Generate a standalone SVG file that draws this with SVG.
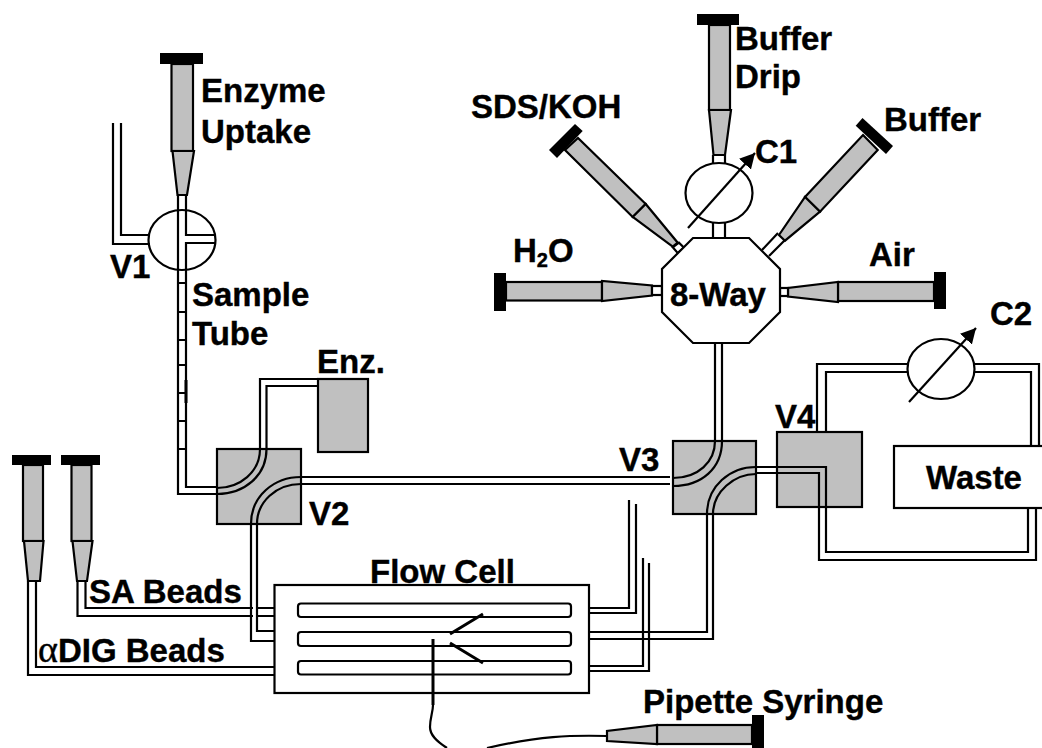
<svg xmlns="http://www.w3.org/2000/svg" width="1042" height="748" viewBox="0 0 1042 748">
<style>
text{font-family:"Liberation Sans",Arial,sans-serif;font-weight:bold;font-size:33px;fill:#000;stroke:#000;stroke-width:.4}
.g{fill:#c0c0c0;stroke:#000;stroke-width:2.200}
.w{fill:#fff;stroke:#000;stroke-width:2.200}
.c{fill:#000}
.l{fill:none;stroke:#000;stroke-width:2.200}
.t{fill:none;stroke:#000;stroke-width:3}
</style>
<defs>
<marker id="ah" markerUnits="userSpaceOnUse" markerWidth="20" markerHeight="20" refX="15" refY="8" orient="auto"><path d="M0 0L15 8L0 16Z" fill="#000"/></marker>
</defs>
<rect width="1042" height="748" fill="#fff"/>

<g id="v2"><rect class="g" x="217" y="449" width="84" height="75"/></g>
<g id="v3"><rect class="g" x="673" y="441" width="83" height="73"/></g>
<g id="v4"><rect class="g" x="777" y="432" width="85" height="75"/></g>
<g id="enz"><rect class="g" x="318" y="379" width="50" height="73"/></g>

<g id="connectors">
<path class="l" d="M113 123V244H150M121 123V235H150"/>
<path class="l" d="M178 195V494H217M186 195V235H215M215 243H186V487H217"/>
<path class="l" d="M178 283H186M178 312H186M178 340H186M178 365H186M178 393H186M178 421H186M178 449H186"/>
<path class="t" d="M186 380V403"/>
<path class="l" d="M260 449V379H318M266.500 449V386H318"/>
<path class="l" d="M260 449C260 472 240 488 217 488M266.500 449C266.500 476 244 494 217 494"/>
<path class="l" d="M251 524C251 496 274 477 301 477M257 524C257 502 276 484 301 484"/>
<path class="l" d="M251 524V641H274M257 524V631H274"/>
<path class="l" d="M301 477H670M301 484H670"/>
<path class="l" d="M77.500 581V616H253M257 616H274M85.500 581V608H253M257 608H274"/>
<path class="l" d="M28 581V675H274M36 581V667H274"/>
<path class="l" d="M715 343V441M722 343V441"/>
<path class="l" d="M715 441C715 462 698 478 673 478M722 441C722 468 702 486 673 486"/>
<path class="l" d="M756 467C730 467 707 486 707 514M756 474C734 474 713 492 713 514"/>
<path class="l" d="M707 514V632H589M713 514V639H589"/>
<path class="l" d="M589 608H629V500M589 613H636V504"/>
<path class="l" d="M589 666H643V558M589 671H649V563"/>
<path class="l" d="M756 467H826V552H1028V508M756 473H819V560H1036V508"/>
<path class="l" d="M817 432V364H908M826 432V372H908M975 364H1039V446M975 372H1031V446"/>
<path class="l" d="M713 155V163M725 155V163M713 223V238M725 223V238"/>
<path class="l" d="M762 250L778 233M769 256L785 240"/>
<path class="l" d="M607 736C570 735 540 736 487 748M447 748C436 741 430 735 430 727C430 718 433 712 433 705"/>
<path class="t" d="M433 639V705"/>
</g>

<g id="flow-cell">
<rect x="274.500" y="585" width="314.500" height="108" fill="none" stroke="#000" stroke-width="2.200"/>
<rect class="l" x="298" y="603.500" width="273" height="13.500" rx="3"/>
<rect class="l" x="298" y="632" width="273" height="14" rx="3"/>
<rect class="l" x="298" y="661" width="273" height="13.500" rx="3"/>
<path class="t" d="M450 634L483 614M450 643L483 663"/>
<text x="370" y="583">Flow Cell</text>
</g>

<g id="syr-enzyme"><rect class="g" x="171.500" y="64" width="21.500" height="87"/><rect class="c" x="160" y="53" width="43" height="11"/><path class="g" d="M172.500 151H194L187 195H177.500Z"/></g>
<g id="syr-dig"><rect class="g" x="23" y="465" width="20" height="76"/><rect class="c" x="12" y="455" width="39" height="10"/><path class="g" d="M24 541H43.500L40 581H28Z"/></g>
<g id="syr-sa"><rect class="g" x="71.500" y="465" width="20" height="76"/><rect class="c" x="61" y="455" width="39" height="10"/><path class="g" d="M72.500 541H92.500L87 581H77Z"/></g>
<g id="syr-drip"><rect class="g" x="709" y="25" width="21" height="85"/><rect class="c" x="697" y="14" width="42" height="11"/><path class="g" d="M709 110H731L725 155H713.500Z"/></g>
<g id="syr-sds"><path class="g" d="M565 150L578 138L645.700 204L632.700 217Z"/><path class="c" d="M575 124L582.700 131L557 158L549 150Z"/><path class="g" d="M632.700 217L645.700 204L677.700 242.700L672.700 246.700Z"/><path class="w" d="M672.700 247.300L679 242.700L684 247.700L677.700 253Z"/></g>
<g id="syr-buffer"><path class="g" d="M863 135L877.700 150L820 211.700L805 197Z"/><path class="c" d="M862.500 118L893 146L886 154L855.700 125.700Z"/><path class="g" d="M805 197L820 211.700L785 240.700L779 235Z"/></g>
<g id="syr-h2o"><rect class="g" x="506" y="282" width="96" height="18.500"/><rect class="c" x="494" y="273" width="12" height="38"/><path class="g" d="M602 281V301L652 295.500V285.500Z"/><rect class="w" x="652" y="286" width="10" height="9"/></g>
<g id="syr-air"><rect class="g" x="838" y="282" width="96" height="19"/><rect class="c" x="934" y="272" width="12" height="37"/><path class="g" d="M838 282V302L788 296.500V288Z"/><rect class="w" x="780" y="288" width="8" height="8"/></g>
<g id="syr-pipette"><rect class="g" x="657" y="725" width="95" height="19"/><path class="g" d="M657 725V744L607 741V731Z"/><rect class="c" x="752" y="715" width="12" height="33"/></g>

<g id="valve-v1"><ellipse cx="182" cy="240" rx="33.500" ry="30" fill="none" stroke="#000" stroke-width="2.200"/></g>
<g id="valve-c1"><ellipse class="w" cx="719" cy="193" rx="33.500" ry="30"/><path class="l" d="M688 228L755 153" marker-end="url(#ah)"/></g>
<g id="valve-c2"><ellipse class="w" cx="941" cy="369" rx="33.500" ry="30"/><path class="l" d="M909 402L976 328" marker-end="url(#ah)"/></g>
<g id="eight-way"><path class="w" d="M693 238H749L780 269V312L749 343H693L662 312V269Z"/><text x="670" y="306">8-Way</text></g>
<g id="waste"><rect class="w" x="894" y="446" width="150" height="62"/><text x="926" y="489">Waste</text></g>

<g id="labels">
<text x="201" y="102">Enzyme</text>
<text x="201" y="143">Uptake</text>
<text x="192" y="306">Sample</text>
<text x="192" y="345">Tube</text>
<text x="317" y="373">Enz.</text>
<text x="110" y="278">V1</text>
<text x="309" y="525">V2</text>
<text x="619" y="471">V3</text>
<text x="775" y="428">V4</text>
<text x="735" y="50">Buffer</text>
<text x="735" y="88">Drip</text>
<text x="471" y="118">SDS/KOH</text>
<text x="884" y="131">Buffer</text>
<text x="755" y="163">C1</text>
<text x="513" y="262">H<tspan dy="5" font-size="20">2</tspan><tspan dy="-5">O</tspan></text>
<text x="869" y="266">Air</text>
<text x="990" y="325">C2</text>
<text x="89" y="603">SA Beads</text>
<text x="38" y="662"><tspan font-family="Liberation Serif" font-weight="normal" font-size="38">α</tspan>DIG Beads</text>
<text x="643" y="713">Pipette Syringe</text>
</g>
</svg>
